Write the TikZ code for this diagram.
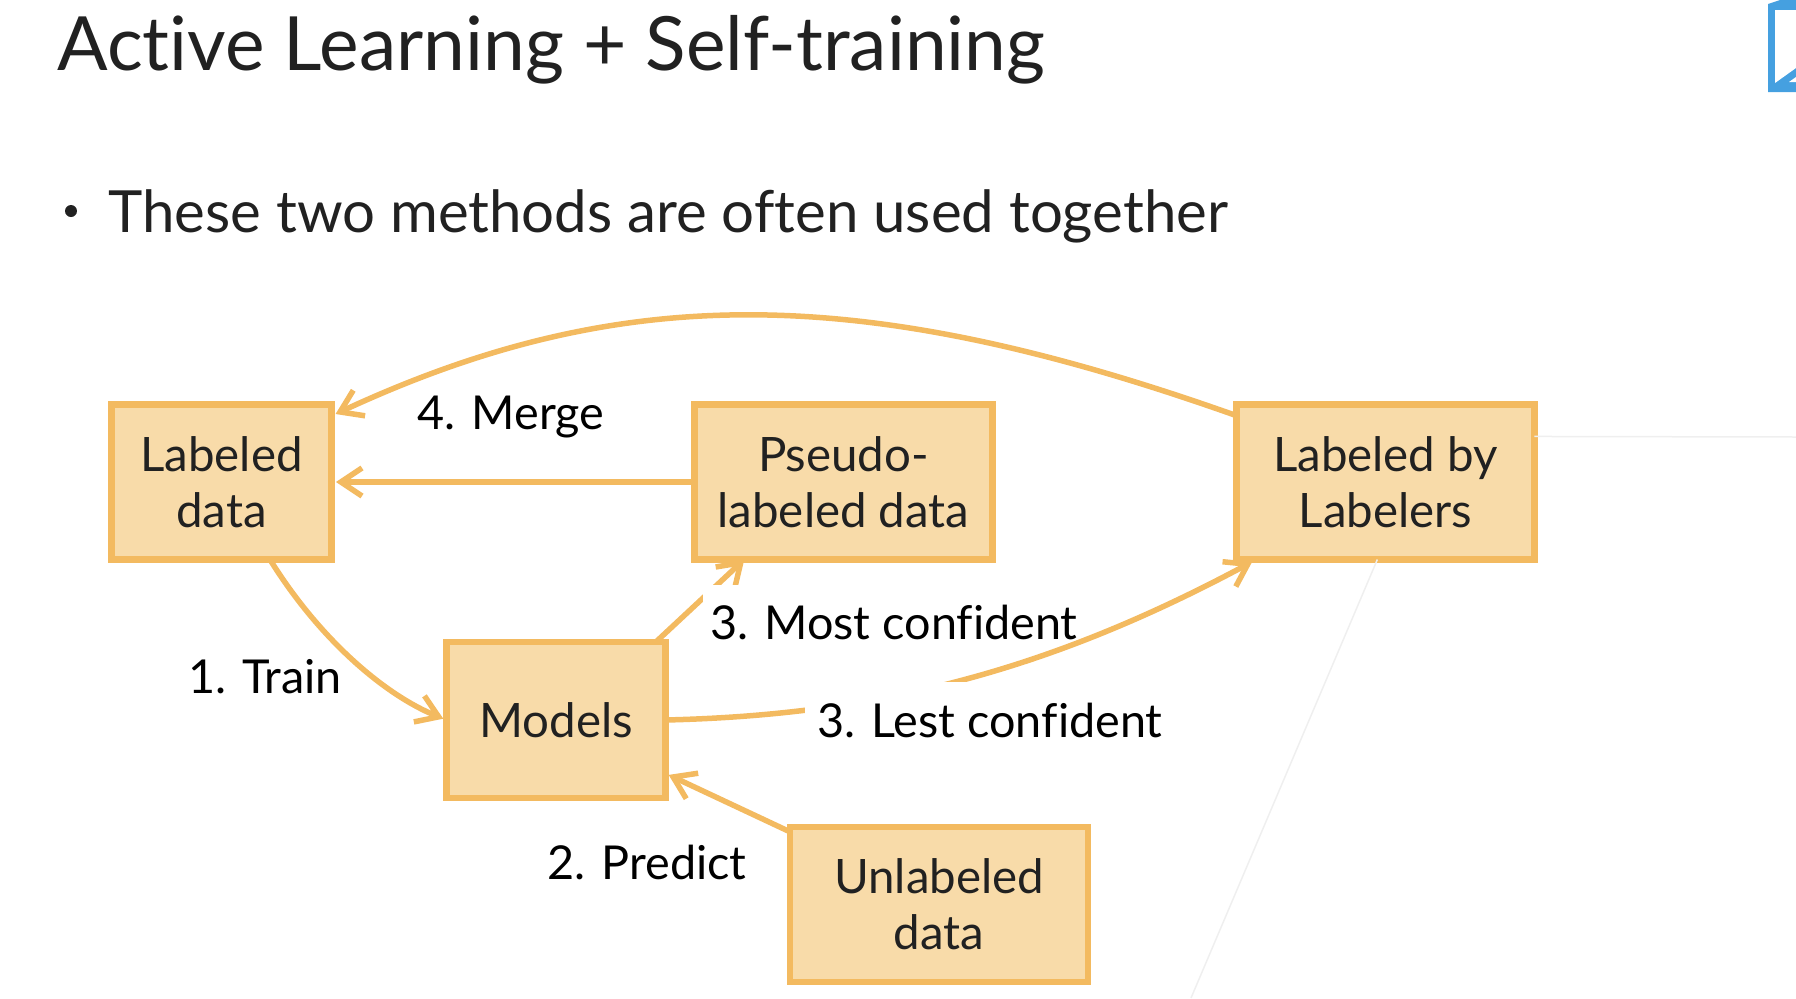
\documentclass[tikz,border=0pt]{standalone}
\usepackage{fontspec}
\setmainfont{Lato}[Ligatures={NoCommon,TeX}]
\usepackage{xcolor}
\usetikzlibrary{arrows.meta}
\definecolor{boxline}{HTML}{F3BA60}
\definecolor{boxfill}{HTML}{F8DBA9}
\definecolor{inkgray}{HTML}{212121}
\definecolor{iconblue}{HTML}{45A0E0}
\definecolor{faintline}{HTML}{EFEFEF}
\tikzset{
  box/.style={rectangle, draw=boxline, fill=boxfill, line width=0.13cm, outer sep=0pt, align=center, text=inkgray, font=\fontsize{27}{32}\selectfont},
  flow/.style={draw=boxline, line width=0.11cm, -{Straight Barb[length=12pt,width=16pt,line width=0.11cm]}},
  lbl/.style={text=black, inner sep=0pt, font=\fontsize{26.6}{32}\selectfont},
  hidelbl/.style={lbl, fill=white},
  faint/.style={draw=faintline, line width=0.03cm}
}
\begin{document}
\begin{tikzpicture}[x=0.02cm,y=-0.02cm]

\useasboundingbox (0,0) rectangle (1796,998);

\node[rectangle, inner sep=0pt, text=inkgray, font=\fontsize{42.6}{50}\selectfont, anchor=west] (title) at (57,50) {Active Learning + Self-training};
\node[circle, fill=inkgray, inner sep=0pt, minimum size=0.24cm] (dot) at (71,211) {};
\node[inner sep=0pt, text=inkgray, font=\fontsize{33.1}{40}\selectfont, anchor=west] (bullet) at (108,216) {These two methods are often used together};

\node[box, minimum width=4.4cm, minimum height=3.1cm] (labeled) at (221.5,482) {Labeled\\data};
\node[box, minimum width=5.96cm, minimum height=3.1cm] (pseudo) at (843.5,482) {Pseudo-\\labeled data};
\node[box, minimum width=5.96cm, minimum height=3.1cm] (labelers) at (1385.5,482) {Labeled by\\Labelers};
\node[box, minimum width=4.38cm, minimum height=3.12cm] (models) at (556,720) {Models};
\node[box, minimum width=5.96cm, minimum height=3.1cm] (unlabeled) at (939,904.5) {Unlabeled\\data};

\coordinate (faintA) at (1796,437);
\coordinate (faintB) at (1191,998);
\draw[faint] (labelers.17) -- (faintA);
\draw[faint] (labelers.-96) -- (faintB);

\draw[flow, shorten >=0.09cm] (labelers.156) .. controls (860,282) and (620,282) .. (labeled.31);
\draw[flow, shorten >=0.09cm] (pseudo.west) -- (labeled.east);
\draw[flow, shorten >=0.07cm] (labeled.-58) .. controls (320,640) and (385,695) .. (models.west);
\draw[flow, shorten >=0.07cm] (unlabeled.154) -- (models.-26);
\draw[flow] (models.38) -- (pseudo.218.3);

\node[hidelbl, minimum width=382*0.02cm, minimum height=74*0.02cm] (most) at (894,622) {3. Most confident};
\draw[flow, shorten >=0.1cm] (models.east) .. controls (880,715) and (1050,670) .. (labelers.211);
\node[hidelbl, minimum width=370*0.02cm, minimum height=76*0.02cm] (lest) at (990,720) {3. Lest confident};

\node[lbl] (merge) at (511,417) {4. Merge};
\node[lbl] (train) at (265,677) {1. Train};
\node[lbl] (predict) at (647,862) {2. Predict};

\fill[iconblue] (1768,4) -- (1780,0) -- (1796,0) -- (1796,92) -- (1768,92) -- cycle;
\fill[white] (1775,10) -- (1796,10) -- (1796,68) -- (1775,83) -- cycle;
\fill[white] (1796,77) -- (1789,82) -- (1796,82) -- cycle;

\end{tikzpicture}
\end{document}
